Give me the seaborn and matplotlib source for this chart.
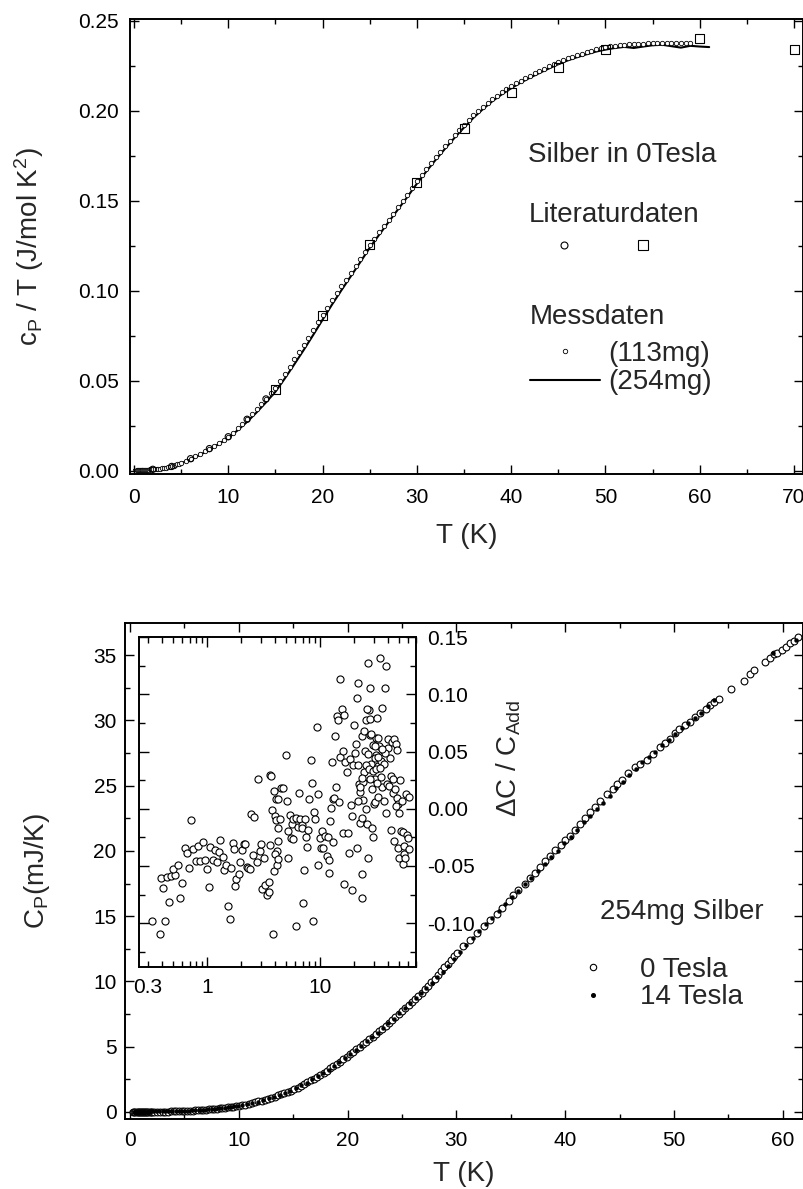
import matplotlib
matplotlib.use("Agg")
import matplotlib.pyplot as plt
import seaborn as sns
from matplotlib.lines import Line2D
from matplotlib.ticker import MultipleLocator, FixedLocator, LogLocator, NullFormatter, FormatStrFormatter
sns.set_style("ticks")
plt.rcParams['font.family'] = ['Liberation Sans', 'DejaVu Sans']
plt.rcParams['mathtext.default'] = 'regular'
plt.rcParams['axes.unicode_minus'] = False

# ---------- top panel: c_P/T of silver, 0 T ----------
# Messdaten 113mg (open circles)
T_113 = [0.3, 0.4, 0.5, 0.6, 0.7, 0.8, 0.9, 1.0, 1.1, 1.2, 1.3, 1.4, 1.5, 1.6, 1.7, 1.8,
         1.9, 2.0, 2.2, 2.4, 2.6, 2.8, 3.0, 3.2, 3.4, 3.6, 3.8, 4.0, 4.2, 4.4, 4.6, 4.8,
         5.0, 5.5, 6.0, 6.5, 7.0, 7.5, 8.0, 8.5, 9.0, 9.5, 10.0, 10.5, 11.0, 11.5, 12.0, 12.5,
         13.0, 13.5, 14.0, 14.5, 15.0, 15.5, 16.0, 16.5, 17.0, 17.5, 18.0, 18.5, 19.0, 19.5,
         20.0, 20.5, 21.0, 21.5, 22.0, 22.5, 23.0, 23.5, 24.0, 24.5, 25.0, 25.5, 26.0, 26.5,
         27.0, 27.5, 28.0, 28.5, 29.0, 29.5, 30.0, 30.5, 31.0, 31.5, 32.0, 32.5, 33.0, 33.5,
         34.0, 34.5, 35.0, 35.5, 36.0, 36.5, 37.0, 37.5, 38.0, 38.5, 39.0, 39.5, 40.0, 40.5,
         41.0, 41.5, 42.0, 42.5, 43.0, 43.5, 44.0, 44.5, 45.0, 45.5, 46.0, 46.5, 47.0, 47.5,
         48.0, 48.5, 49.0, 49.5, 50.0, 50.5, 51.0, 51.5, 52.0, 52.5, 53.0, 53.5, 54.0, 54.5,
         55.0, 55.5, 56.0, 56.5, 57.0, 57.5, 58.0, 58.5, 59.0]
cT_113 = [0.0008, 0.0008, 0.0007, 0.0007, 0.0007, 0.0007, 0.0007, 0.0007, 0.0007, 0.0007,
          0.0008, 0.0008, 0.0008, 0.0008, 0.0009, 0.0009, 0.0009, 0.0010, 0.0010, 0.0011,
          0.0012, 0.0013, 0.0014, 0.0016, 0.0018, 0.0020, 0.0022, 0.0025, 0.0028, 0.0032,
          0.0036, 0.0040,
          0.0045, 0.0056, 0.0068, 0.0081,
          0.0094, 0.0109, 0.0124, 0.0140, 0.0156, 0.0173, 0.0190, 0.0213, 0.0236, 0.0261,
          0.0287, 0.0314, 0.0342, 0.0371, 0.0400, 0.0431, 0.0462, 0.0500, 0.0540, 0.0580,
          0.0620, 0.0660, 0.0700, 0.0741, 0.0783, 0.0825, 0.0867, 0.0908, 0.0948, 0.0987,
          0.1025, 0.1063, 0.1100, 0.1137, 0.1175, 0.1215, 0.1255, 0.1290, 0.1325, 0.1360,
          0.1395, 0.1430, 0.1465, 0.1500, 0.1535, 0.1572, 0.1610, 0.1644, 0.1678, 0.1711,
          0.1743, 0.1774, 0.1805, 0.1835, 0.1865, 0.1894, 0.1922, 0.1949, 0.1975, 0.1999,
          0.2023, 0.2045, 0.2066, 0.2085, 0.2104, 0.2121, 0.2138, 0.2153, 0.2168, 0.2182,
          0.2196, 0.2209, 0.2222, 0.2235, 0.2248, 0.2260, 0.2272, 0.2282, 0.2292, 0.2301,
          0.2310, 0.2319, 0.2327, 0.2335, 0.2342, 0.2349, 0.2355, 0.2359, 0.2363, 0.2366,
          0.2368, 0.2370, 0.2372, 0.2373, 0.2374, 0.2375, 0.2376, 0.2377, 0.2377, 0.2378,
          0.2378, 0.2378, 0.2378, 0.2377, 0.2377]

# Messdaten 254mg (line)
T_254 = list(range(0, 62))
cT_254 = [0.0006, 0.0006, 0.0008, 0.0013, 0.0023, 0.0042, 0.0064, 0.0089, 0.0118, 0.0150,
          0.0183, 0.0226, 0.0273, 0.0325, 0.0381, 0.0440, 0.0514, 0.0592, 0.0672, 0.0755,
          0.0840, 0.0924, 0.1004, 0.1082, 0.1160, 0.1240, 0.1312, 0.1383, 0.1453, 0.1523,
          0.1596, 0.1664, 0.1729, 0.1791, 0.1851, 0.1908, 0.1962, 0.2010, 0.2054, 0.2092,
          0.2126, 0.2157, 0.2185, 0.2211, 0.2236, 0.2260, 0.2281, 0.2299, 0.2315, 0.2330,
          0.2341, 0.2350, 0.2356, 0.2350, 0.2358, 0.2365, 0.2368, 0.2360, 0.2352, 0.2362,
          0.2358, 0.2355]

# Literaturdaten
T_lit_sq = [15, 20, 25, 30, 35, 40, 45, 50, 60, 70]
cT_lit_sq = [0.0455, 0.0865, 0.1256, 0.160, 0.190, 0.2105, 0.224, 0.234, 0.240, 0.234]
T_lit_ci = [2, 4, 6, 8, 10, 12, 14]
cT_lit_ci = [0.0009, 0.0025, 0.0068, 0.0124, 0.0190, 0.0287, 0.0400]

# ---------- bottom panel: C_P of 254mg silver ----------
T_0T = [0.3, 0.4, 0.5, 0.6, 0.7, 0.8, 0.9, 1.0, 1.1, 1.2, 1.3, 1.4, 1.5, 1.6, 1.7, 1.8, 1.9, 2.0,
        2.25, 2.5, 2.75, 3.0, 3.25, 3.5, 3.75, 4.0, 4.25, 4.5, 4.75, 5.0, 5.25, 5.5, 5.75, 6.0,
        6.25, 6.5, 6.75, 7.0, 7.25, 7.5, 7.75, 8.0, 8.25, 8.5, 8.75, 9.0, 9.25, 9.5, 9.75, 10.0,
        10.3, 10.6, 10.9, 11.2, 11.5, 11.8, 12.1, 12.4, 12.7, 13.0, 13.3, 13.6, 13.9, 14.2,
        14.5, 14.8, 15.1, 15.4, 15.7, 16.0, 16.3, 16.6, 16.9, 17.2, 17.5, 17.8, 18.1, 18.4,
        18.7, 19.0, 19.3, 19.6, 19.9, 20.2, 20.5, 20.8, 21.1, 21.4, 21.7, 22.0, 22.3, 22.6,
        22.9, 23.2, 23.5, 23.8, 24.1, 24.4, 24.7, 25.0, 25.3, 25.6, 25.9, 26.2, 26.5, 26.8,
        27.1, 27.4, 27.7, 28.0, 28.3, 28.6, 28.9, 29.2, 29.5, 29.8, 30.1,
        30.6, 31.25, 31.9, 32.5, 33.1, 33.7, 34.2, 34.8, 35.2, 35.7, 36.3, 36.8, 37.2, 37.7,
        38.1, 38.6, 39.1, 39.6, 40.0, 40.4, 40.9, 41.4, 41.8, 42.3, 42.7, 43.2, 43.8, 44.4,
        44.8, 45.2, 45.8, 46.4, 46.9, 47.5, 48.1, 48.7, 49.2, 49.6, 50.1, 50.5, 51.0, 51.5,
        51.9, 52.4, 52.9, 53.3, 53.7, 54.1, 55.2, 56.4, 57.0, 57.4, 58.4, 58.8, 59.2, 59.5,
        59.9, 60.3, 60.7, 61.0, 61.4]
Cp_0T = [0.012, 0.012, 0.012, 0.013, 0.013, 0.013, 0.014, 0.014, 0.015, 0.015, 0.016, 0.016,
         0.017, 0.017, 0.018, 0.019, 0.020, 0.021,
         0.023, 0.025, 0.027, 0.029, 0.031, 0.034, 0.038, 0.043, 0.048, 0.055, 0.063, 0.072,
         0.083, 0.094, 0.106, 0.118, 0.132, 0.146, 0.161, 0.177, 0.195, 0.213, 0.233, 0.254,
         0.276, 0.298, 0.322, 0.347, 0.375, 0.404, 0.436, 0.469,
         0.519, 0.569, 0.623, 0.681, 0.743, 0.807, 0.875, 0.946, 1.021, 1.098, 1.180, 1.265,
         1.353, 1.446, 1.543, 1.643, 1.752, 1.873, 2.000, 2.134, 2.270, 2.411, 2.555, 2.703,
         2.853, 3.008, 3.167, 3.332, 3.502, 3.675, 3.854, 4.036, 4.221, 4.408, 4.597, 4.789,
         4.982, 5.176, 5.372, 5.570, 5.771, 5.975, 6.180, 6.391, 6.604, 6.821, 7.043, 7.274,
         7.512, 7.750, 7.976, 8.202, 8.432, 8.666, 8.903, 9.143, 9.385, 9.65, 9.93, 10.22,
         10.5, 10.78, 11.07, 11.36, 11.65, 11.93, 12.2,
         12.7, 13.2, 13.75, 14.25, 14.7, 15.2, 15.65, 16.2, 16.6, 17.0, 17.5, 17.9, 18.3, 18.75,
         19.25, 19.6, 20.1, 20.45, 20.85, 21.15, 21.6, 22.1, 22.5, 23.0, 23.4, 23.8, 24.4, 24.75,
         25.1, 25.45, 25.95, 26.4, 26.7, 27.0, 27.4, 27.95, 28.3, 28.6, 29.05, 29.35, 29.65, 29.9,
         30.25, 30.6, 30.9, 31.2, 31.4, 31.65, 32.4, 33.05, 33.6, 33.9, 34.5, 34.8, 35.1, 35.2,
         35.4, 35.65, 35.9, 36.1, 36.4]

T_14T = [0.35, 0.45, 0.55, 0.65, 0.75, 0.85, 0.95, 1.05, 1.15, 1.25, 1.35, 1.45, 1.55, 1.65,
         1.75, 1.85, 1.95,
         2.1, 2.4, 2.7, 3.0, 3.3, 3.6, 3.9, 4.2, 4.5, 4.8, 5.1, 5.4, 5.7, 6.0, 6.3, 6.6, 6.9,
         7.2, 7.5, 7.8, 8.1, 8.4, 8.7, 9.0, 9.3, 9.6, 9.9,
         10.25, 10.75, 11.25, 11.75, 12.25, 12.75, 13.25, 13.75, 14.25, 14.75, 15.25, 15.75,
         16.25, 16.75, 17.25, 17.75, 18.25, 18.75, 19.25, 19.75, 20.25, 20.75, 21.25, 21.75,
         22.25, 22.75, 23.25, 23.75, 24.25, 24.75, 25.25, 25.75, 26.25, 26.75, 27.25, 27.75,
         28.25, 28.75, 29.25, 29.75, 30.3, 30.9, 31.5, 32.1, 32.7, 33.3, 33.9, 34.5, 35.1,
         35.7, 36.3, 36.9, 37.5, 38.1, 38.7, 39.3, 39.9, 40.5, 41.1, 41.7, 42.3, 42.9, 43.5,
         44.1, 44.7, 45.3, 45.9, 46.5, 47.1, 47.7, 48.3, 48.9, 49.5, 50.1, 50.7, 51.3, 51.9,
         52.5, 53.1, 53.7, 59.1, 61.2]
Cp_14T = [0.028, 0.028, 0.029, 0.029, 0.029, 0.030, 0.030, 0.030, 0.031, 0.031, 0.031, 0.032,
          0.032, 0.033, 0.033, 0.034, 0.035,
          0.036, 0.038, 0.040, 0.043, 0.046, 0.050, 0.055, 0.061, 0.068, 0.077, 0.088, 0.100,
          0.114, 0.129, 0.146, 0.164, 0.183, 0.204, 0.226, 0.250, 0.276, 0.303, 0.333, 0.364,
          0.397, 0.432, 0.470,
          0.51, 0.6, 0.7, 0.8, 0.91, 1.04, 1.17, 1.31, 1.47, 1.63, 1.82, 2.03, 2.25, 2.49,
          2.73, 2.99, 3.25, 3.53, 3.83, 4.13, 4.44, 4.76, 5.08, 5.41, 5.74, 6.08, 6.43, 6.79,
          7.16, 7.55, 7.94, 8.32, 8.71, 9.1, 9.51, 9.92, 10.33, 10.75, 11.2, 11.7, 12.25,
          12.8, 13.35, 13.9, 14.4, 14.9, 15.4, 15.95, 16.45, 16.95, 17.45, 17.95, 18.5, 19.0,
          19.5, 20.0, 20.6, 21.1, 21.6, 22.2, 22.7, 23.2, 23.7, 24.2, 24.8, 25.3, 25.8, 26.3,
          26.8, 27.2, 27.6, 28.1, 28.5, 29.0, 29.4, 29.8, 30.2, 30.6, 31.1, 31.6, 35.2, 36.2]

# inset: Delta C / C_Add vs T (log)
T_in = [0.328, 0.381, 0.422, 0.392, 0.408, 0.443, 0.483, 0.521, 0.504, 0.554, 0.461, 0.605,
        0.581, 0.639, 0.665, 0.698, 0.726, 0.757, 0.805, 0.832, 0.867, 0.910, 0.953, 0.987,
        1.03, 1.07, 1.13, 1.18, 1.23, 1.28, 1.31, 1.37, 1.42, 1.48, 1.52, 1.58, 1.64, 1.70,
        1.71, 1.76, 1.81, 1.92, 1.97, 2.03, 2.11, 2.17, 2.23, 2.31, 2.40, 2.45, 2.61, 2.54,
        2.75, 2.81, 2.93, 3.01, 3.05, 3.17, 3.24, 3.37, 3.49, 3.54, 3.59, 3.68, 3.61, 3.73,
        3.79, 3.86, 3.92, 4.05, 3.97, 4.05, 4.25, 4.25, 4.14, 3.97, 4.11, 4.25, 4.49, 4.40,
        4.25, 4.71, 4.93, 5.04, 5.39, 5.58, 5.77, 5.21, 5.50, 5.77, 5.14, 6.05, 6.30, 6.47,
        6.61, 6.84, 6.93, 7.32, 7.21, 7.07, 6.10, 7.42, 7.62, 7.83, 7.94, 8.21, 8.38, 8.67,
        8.79, 8.97, 9.28, 9.47, 9.60, 9.93, 10.1, 10.4, 10.6, 11.0, 11.4, 11.8, 11.9, 12.2,
        12.4, 11.9, 12.6, 12.9, 13.0, 13.3, 13.5, 13.8, 14.0, 14.2, 14.6, 14.9, 15.0, 15.4,
        15.7, 15.8, 16.2, 16.3, 16.5, 17.1, 17.7, 17.9, 18.3, 18.7, 18.9, 19.2, 19.6, 19.9,
        20.3, 20.7, 21.0, 21.1, 21.4, 21.7, 22.1, 22.5, 22.6, 23.2, 23.2, 23.5, 23.7, 24.0,
        24.5, 24.8, 25.2, 25.5, 25.9, 26.2, 26.6, 27.0, 27.3, 27.5, 27.7, 28.1, 28.5, 28.9,
        29.3, 29.7, 30.1, 30.5, 30.9, 31.1, 31.7, 32.1, 32.6, 33.3, 33.7, 34.2, 34.9, 35.4,
        35.9, 36.4, 36.8, 37.3, 37.9, 38.4, 38.9, 39.4, 40.0, 40.8, 41.4, 42.2, 42.8, 43.4,
        44.3, 45.2, 45.8, 46.5, 47.4, 48.0, 48.3, 49.0, 49.7, 50.0, 50.7, 51.7, 52.5, 53.2,
        53.9, 54.6, 55.3, 56.1, 56.9, 58.1, 59.3, 60.1, 60.1,
        22.6, 23.5, 25.2, 26.2, 27.0, 27.7, 28.5, 29.3, 30.1, 30.9, 31.7, 32.6, 33.5, 34.4,
        37.3, 41.7, 44.0, 46.5, 24.5, 25.9, 28.1, 30.5, 32.6, 34.9, 21.7, 23.2]
dC_in = [-0.0985, -0.1093, -0.0979, -0.0609, -0.0696, -0.0597, -0.0591, -0.0580, -0.0530,
         -0.0492, -0.0816, -0.0650, -0.0778, -0.0347, -0.0388, -0.0519, -0.0102, -0.0353,
         -0.0457, -0.0326, -0.0455, -0.0294, -0.0449, -0.0527, -0.0685, -0.0335, -0.0446,
         -0.0364, -0.0463, -0.0382, -0.0274, -0.0422, -0.0536, -0.0495, -0.0848, -0.0967,
         -0.0522, -0.0303, -0.0350, -0.0679, -0.0615, -0.0568, -0.0463, -0.0361, -0.0306,
         -0.0306, -0.0510, -0.0516, -0.0530, -0.0050, -0.0070, -0.0405, -0.0466, 0.0262,
         -0.0373, -0.0312, -0.0705, -0.0428, -0.0670, -0.0758, -0.0638, -0.0726, 0.0297,
         0.0288, -0.0318, -0.0012, -0.1093, -0.0545, 0.0154, 0.0087, -0.0064, -0.0102,
         -0.0166, -0.0283, -0.0370, -0.0393, -0.0495, -0.0443, 0.0180, -0.0093,
         0.0087, 0.0178, 0.0466, 0.0067, -0.0055, -0.0137, -0.0093, -0.0195, -0.0253,
         -0.0268, -0.0428, -0.0079, -0.0160, 0.0140, -0.0093, -0.0143, -0.0166, -0.0087,
         -0.0539, -0.0822, -0.1029, -0.0248, -0.0335, -0.0189, 0.0087, 0.0428, 0.0227,
         -0.0985, -0.0029, -0.0093, 0.0714, 0.0125, -0.0495, -0.0253, -0.0347, -0.0195,
         -0.0347, -0.0242, -0.0414, -0.0245, -0.0452, -0.0108, 0.0009, -0.0559, 0.0411,
         0.0087, -0.0294, 0.0090, 0.0635, 0.0189, 0.0810, 0.0772, 0.0061, 0.0452, 0.1139,
         0.0868, -0.0210, 0.0504, 0.0819, -0.0656, 0.0411, 0.0320, -0.0210, -0.0385, 0.0431,
         0.0032, -0.0714, -0.0064, 0.0379, 0.0731, 0.0490, 0.0568, -0.0347, 0.0970, 0.1101,
         0.0379, 0.0213, 0.0146, -0.0122, -0.0568, -0.0778, 0.0635, 0.0236, 0.0073, 0.0320,
         0.0504, 0.0772, -0.0006, -0.0137, -0.0428, 0.1273, 0.0865, 0.1052, 0.0787, 0.0644,
         0.0388, -0.0166, -0.0248, 0.0557, 0.0038, 0.0256, 0.0058, 0.0469, 0.0615, 0.0795,
         0.0373, 0.0102, 0.0548, 0.1320, 0.0417, 0.0877, 0.0189, 0.0513, 0.0067, 0.0388,
         0.1052, 0.1247, -0.0035, 0.0213, 0.0606, 0.0533, 0.0198, 0.0446, -0.0189, 0.0583,
         0.0140, 0.0606, -0.0283, 0.0169, 0.0568, 0.0096, 0.0510, -0.0347, 0.0038, -0.0428,
         -0.0035, 0.0248, -0.0195, 0.0067, -0.0487, -0.0204, -0.0399, -0.0326, -0.0434,
         0.0125, -0.0233, -0.0253, 0.0102, -0.0355,
         0.0192, 0.0271, 0.0382, 0.0475, 0.0344, 0.0256, 0.0169, 0.0329, 0.0446, 0.0344,
         0.0227, 0.0452, 0.0358, 0.0277, 0.0490, 0.0286, 0.0256, 0.0023, 0.0679, 0.0868,
         0.0650, 0.0548, 0.0621, 0.0519, 0.0067, -0.0079]

W, H = 804, 1189
fig = plt.figure(figsize=(W / 100, H / 100), dpi=100)

def px_axes(l, t, r, b):
    return fig.add_axes([l / W, 1 - b / H, (r - l) / W, (b - t) / H])

def style_axes(ax, major=6.5, minor=3.6):
    ax.tick_params(which='both', direction='in', top=True, right=True, width=1.0, colors='black')
    ax.tick_params(which='major', length=major, labelsize=15)
    ax.tick_params(which='minor', length=minor)
    for s in ax.spines.values():
        s.set_linewidth(1.4)
        s.set_color('black')

# ---- top ----
ax1 = px_axes(130, 19, 803, 474)
sns.lineplot(x=T_254, y=cT_254, ax=ax1, color='black', lw=1.5, zorder=2)
sns.scatterplot(x=T_113, y=cT_113, ax=ax1, s=10, facecolor='white', edgecolor='black',
                linewidth=0.6, zorder=3)
sns.scatterplot(x=T_lit_ci, y=cT_lit_ci, ax=ax1, s=20, facecolor='none', edgecolor='black',
                linewidth=0.8, zorder=3)
sns.scatterplot(x=T_lit_sq, y=cT_lit_sq, ax=ax1, marker='s', s=42, facecolor='none',
                edgecolor='black', linewidth=0.8, zorder=4, clip_on=False)
ax1.set_xlim(-0.42, 70.95)
ax1.set_ylim(-0.0017, 0.2511)
ax1.xaxis.set_major_locator(MultipleLocator(10))
ax1.xaxis.set_minor_locator(MultipleLocator(5))
ax1.yaxis.set_major_locator(MultipleLocator(0.05))
ax1.yaxis.set_minor_locator(MultipleLocator(0.025))
ax1.yaxis.set_major_formatter(FormatStrFormatter('%.2f'))
style_axes(ax1)
ax1.tick_params(axis='x', pad=10)
ax1.tick_params(axis='y', pad=8)
ax1.set_xlabel('T (K)', fontsize=20)
ax1.set_ylabel(r'c$_P$ / T (J/mol K$^2$)', fontsize=20)
ax1.xaxis.set_label_coords(0.5, -0.108)
ax1.yaxis.set_label_coords(-0.125, 0.5)

ax1.text(0.731, 0.701, 'Silber in 0Tesla', transform=ax1.transAxes, fontsize=20,
         ha='center', va='center')
ax1.text(0.72, 0.569, 'Literaturdaten', transform=ax1.transAxes, fontsize=20,
         ha='center', va='center')
ax1.text(0.594, 0.345, 'Messdaten', transform=ax1.transAxes, fontsize=20,
         ha='left', va='center')
lit_handles = [Line2D([], [], ls='none', marker='o', ms=5, mfc='none', mec='black', mew=0.8),
               Line2D([], [], ls='none', marker='s', ms=7, mfc='none', mec='black', mew=0.8)]
leg_lit = ax1.legend(lit_handles, ['', ''], ncol=2, loc='center', bbox_to_anchor=(0.7036, 0.497),
                     frameon=False, fontsize=20, handlelength=1.0, handletextpad=0.0,
                     columnspacing=1.84, borderpad=0, borderaxespad=0)
ax1.add_artist(leg_lit)
mess_handles = [Line2D([], [], ls='none', marker='o', ms=3.2, mfc='white', mec='black', mew=0.6),
                Line2D([], [], color='black', lw=1.5)]
ax1.legend(mess_handles, ['(113mg)', '(254mg)'], loc='center left',
           bbox_to_anchor=(0.594, 0.233), frameon=False, fontsize=20, handlelength=2.52,
           handletextpad=0.32, labelspacing=0.1, borderpad=0, borderaxespad=0)

# ---- bottom ----
ax2 = px_axes(125, 623, 803, 1119)
sns.scatterplot(x=T_0T, y=Cp_0T, ax=ax2, s=24, facecolor='white', edgecolor='black',
                linewidth=0.8, zorder=3)
sns.scatterplot(x=T_14T, y=Cp_14T, ax=ax2, s=8, color='black', edgecolor='black',
                linewidth=0.3, zorder=4)
ax2.set_xlim(-0.46, 61.86)
ax2.set_ylim(-0.54, 37.47)
ax2.xaxis.set_major_locator(MultipleLocator(10))
ax2.xaxis.set_minor_locator(MultipleLocator(5))
ax2.yaxis.set_major_locator(MultipleLocator(5))
ax2.yaxis.set_minor_locator(MultipleLocator(2.5))
style_axes(ax2)
ax2.tick_params(axis='x', pad=9)
ax2.tick_params(axis='y', pad=6)
ax2.set_xlabel('T (K)', fontsize=20)
ax2.set_ylabel(r'C$_P$(mJ/K)', fontsize=20)
ax2.xaxis.set_label_coords(0.5, -0.085)
ax2.yaxis.set_label_coords(-0.108, 0.5)
ax2.text(0.821, 0.417, '254mg Silber', transform=ax2.transAxes, fontsize=20,
         ha='center', va='center')
field_handles = [Line2D([], [], ls='none', marker='o', ms=4.6, mfc='white', mec='black', mew=0.8),
                 Line2D([], [], ls='none', marker='o', ms=2.6, mfc='black', mec='black')]
ax2.legend(field_handles, ['0 Tesla', '14 Tesla'], loc='center left',
           bbox_to_anchor=(0.670, 0.273), frameon=False, fontsize=20, handlelength=1.0,
           handletextpad=1.2, labelspacing=0.05, borderpad=0, borderaxespad=0)

# ---- inset ----
ax3 = px_axes(139, 637, 416, 967)
sns.scatterplot(x=T_in, y=dC_in, ax=ax3, s=26, facecolor='white', edgecolor='black',
                linewidth=0.8, zorder=3)
ax3.set_xscale('log')
ax3.set_xlim(0.25, 70)
ax3.set_ylim(-0.1384, 0.1502)
ax3.xaxis.set_major_locator(FixedLocator([0.3, 1, 10]))
ax3.xaxis.set_major_formatter(FormatStrFormatter('%g'))
ax3.xaxis.set_minor_locator(LogLocator(base=10, subs=(2, 3, 4, 5, 6, 7, 8, 9)))
ax3.xaxis.set_minor_formatter(NullFormatter())
ax3.yaxis.set_major_locator(MultipleLocator(0.05))
ax3.yaxis.set_minor_locator(MultipleLocator(0.025))
ax3.yaxis.set_major_formatter(FormatStrFormatter('%.2f'))
style_axes(ax3, major=7.5, minor=4)
ax3.tick_params(axis='y', labelleft=False, labelright=True, pad=8)
ax3.tick_params(axis='x', pad=8)
ax3.xaxis.get_major_ticks()[0].tick1line.set_markersize(4)
ax3.xaxis.get_major_ticks()[0].tick2line.set_markersize(4)
ax3.yaxis.set_label_position('right')
ax3.set_ylabel(r'$\Delta$C / C$_{Add}$', fontsize=20)
ax3.yaxis.set_label_coords(1.285, 0.633)
ax3.set_xlabel('')

fig.savefig('out.png', dpi=100)
